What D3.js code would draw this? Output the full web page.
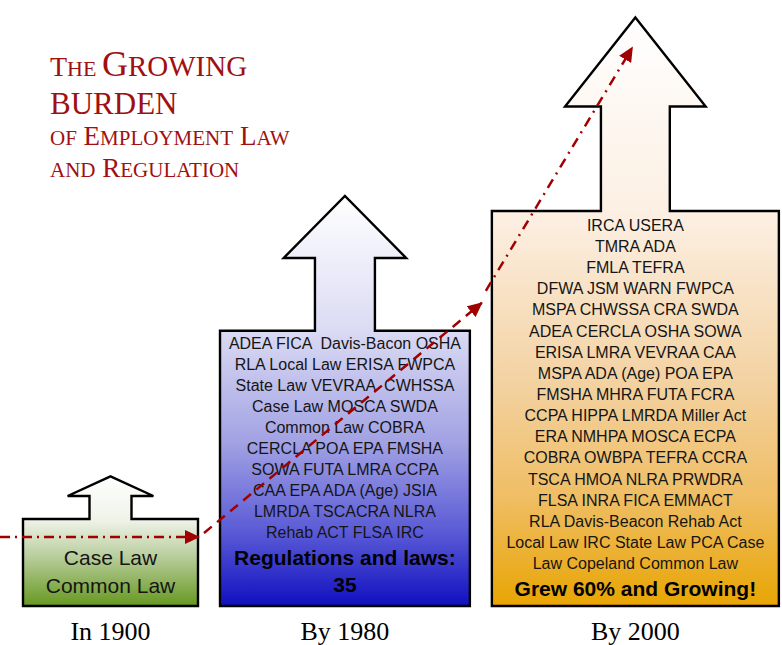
<!DOCTYPE html>
<html>
<head>
<meta charset="utf-8">
<script src="https://cdn.jsdelivr.net/npm/d3@7/dist/d3.min.js"></script>
<style>
  body { margin: 0; background: #fff; }
  svg { display: block; }
  .law { font-family: 'Liberation Sans', Arial, sans-serif; fill: #151515; text-anchor: middle; }
  .summary { font-weight: bold; fill: #000; }
  .era { font-family: 'Liberation Serif', 'Times New Roman', serif; font-size: 26px; text-anchor: middle; fill: #000; }
  .title { font-family: 'Liberation Serif', 'Times New Roman', serif; fill: #a01010; }
</style>
</head>
<body>
<div id="chart"></div>
<script>
'use strict';

// data
const eras = ['In 1900', 'By 1980', 'By 2000'];
const lawCounts = [2, 35, 56];   // 35 listed for 1980, +60% by 2000

const laws1900 = ['Case Law', 'Common Law'];
const laws1980 = [
  'ADEA FICA  Davis-Bacon OSHA',
  'RLA Local Law ERISA FWPCA',
  'State Law VEVRAA  CWHSSA',
  'Case Law MOSCA SWDA',
  'Common Law COBRA',
  'CERCLA POA EPA FMSHA',
  'SOWA FUTA LMRA CCPA',
  'CAA EPA ADA (Age) JSIA',
  'LMRDA TSCACRA NLRA',
  'Rehab ACT FLSA IRC'
];
const laws2000 = [
  'IRCA USERA',
  'TMRA ADA',
  'FMLA TEFRA',
  'DFWA JSM WARN FWPCA',
  'MSPA CHWSSA CRA SWDA',
  'ADEA CERCLA OSHA SOWA',
  'ERISA LMRA VEVRAA CAA',
  'MSPA ADA (Age) POA EPA',
  'FMSHA MHRA FUTA FCRA',
  'CCPA HIPPA LMRDA Miller Act',
  'ERA NMHPA MOSCA ECPA',
  'COBRA OWBPA TEFRA CCRA',
  'TSCA HMOA NLRA PRWDRA',
  'FLSA INRA FICA EMMACT',
  'RLA Davis-Beacon Rehab Act',
  'Local Law IRC State Law PCA Case',
  'Law Copeland Common Law'
];
const lawLists = [laws1900, laws1980, laws2000];
const summaries = [[], ['Regulations and laws:', '35'], ['Grew 60% and Growing!']];

// styles per era (not data)
const eraStyles = [
  {fontSize: 21, lineH: 28, firstOffset: 38, sumSize: 21, sumGap: 26, sumLineH: 27,
   stops: [[0, '#ffffff'], [0.34, '#eef3e8'], [0.62, '#b8cd9c'], [1, '#66981f']]},
  {fontSize: 16, lineH: 21, firstOffset: 12, sumSize: 21, sumGap: 26, sumLineH: 27,
   stops: [[0, '#ffffff'], [0.32, '#dcdcf4'], [0.6, '#a2a2e4'], [0.82, '#5a5ad6'], [1, '#1010c0']]},
  {fontSize: 16, lineH: 21.15, firstOffset: 14, sumSize: 21, sumGap: 25, sumLineH: 27,
   stops: [[0, '#ffffff'], [0.34, '#fcefe2'], [0.62, '#f3d2a2'], [0.82, '#efbd62'], [1, '#e8a502']]}
];

// keep double spaces visible in svg text
const keepSpaces = s => s.replace(/  /g, ' \u00a0');

class GrowthVis {
  constructor (svgWidth, svgHeight) {
    this.svgWidth = svgWidth;
    this.svgHeight = svgHeight;
    this.bottom = 606;
    this.left = 23;
    this.gap = 22;
    this.lineColor = '#a00000';
    this.svg = d3.select('#chart')
                 .append('svg')
                   .attr('width', svgWidth)
                   .attr('height', svgHeight);
    this.defs = this.svg.append('defs');
    this.widthScale = d3.scalePow().exponent(0.78).domain([2, 56]).range([175, 287]);
    this.heightScale = d3.scaleLinear().domain([2, 56]).range([87, 395]);
  }

  layout() {
    let x = this.left;
    this.shapes = eras.map((era, i) => {
      const w = this.widthScale(lawCounts[i]);
      const h = this.heightScale(lawCounts[i]);
      const s = {i: i, era: era, left: x, right: x + w, w: w, cx: x + w / 2,
                 top: this.bottom - h, bottom: this.bottom};
      s.arrowH = h * 0.49;
      s.tip = s.top - s.arrowH;
      s.shoulder = s.tip + s.arrowH * 0.46;
      s.stem = w * 0.12;
      s.head = w * 0.245;
      x += w + this.gap;
      return s;
    });
  }

  shapePath(s) {
    const p = d3.path();
    p.moveTo(s.left, s.bottom);
    p.lineTo(s.left, s.top);
    p.lineTo(s.cx - s.stem, s.top);
    p.lineTo(s.cx - s.stem, s.shoulder);
    p.lineTo(s.cx - s.head, s.shoulder);
    p.lineTo(s.cx, s.tip);
    p.lineTo(s.cx + s.head, s.shoulder);
    p.lineTo(s.cx + s.stem, s.shoulder);
    p.lineTo(s.cx + s.stem, s.top);
    p.lineTo(s.right, s.top);
    p.lineTo(s.right, s.bottom);
    p.closePath();
    return p.toString();
  }

  drawShapes() {
    const grads = this.defs.selectAll('linearGradient')
                      .data(this.shapes)
                      .enter()
                      .append('linearGradient')
                        .attr('id', d => 'grad' + d.i)
                        .attr('gradientUnits', 'userSpaceOnUse')
                        .attr('x1', d => d.cx).attr('x2', d => d.cx)
                        .attr('y1', d => d.tip).attr('y2', d => d.bottom);
    grads.selectAll('stop')
         .data(d => eraStyles[d.i].stops)
         .enter()
         .append('stop')
           .attr('offset', d => d[0])
           .attr('stop-color', d => d[1]);

    this.svg.selectAll('path.shape')
            .data(this.shapes)
            .enter()
            .append('path')
              .attr('class', 'shape')
              .attr('d', d => this.shapePath(d))
              .attr('fill', d => `url(#grad${d.i})`)
              .attr('stroke', '#000')
              .attr('stroke-width', 2.4)
              .attr('stroke-linejoin', 'miter');
  }

  drawTexts() {
    this.shapes.forEach(s => {
      const st = eraStyles[s.i];
      const lines = lawLists[s.i];
      const g = this.svg.append('g').attr('class', 'law');
      g.selectAll('text.item')
       .data(lines)
       .enter()
       .append('text')
         .attr('class', 'item')
         .attr('x', s.cx)
         .attr('y', (d, k) => s.top + st.firstOffset + k * st.lineH)
         .attr('dy', '0.36em')
         .style('font-size', st.fontSize + 'px')
         .text(d => keepSpaces(d));
      const lastY = s.top + st.firstOffset + (lines.length - 1) * st.lineH;
      g.selectAll('text.summary')
       .data(summaries[s.i])
       .enter()
       .append('text')
         .attr('class', 'summary')
         .attr('x', s.cx)
         .attr('y', (d, k) => lastY + st.sumGap + k * st.sumLineH)
         .attr('dy', '0.36em')
         .style('font-size', st.sumSize + 'px')
         .text(d => d);
    });

    this.svg.selectAll('text.era')
            .data(this.shapes)
            .enter()
            .append('text')
              .attr('class', 'era')
              .attr('x', d => d.cx)
              .attr('y', 640)
              .text(d => d.era);
  }

  drawTrend() {
    this.defs.append('marker')
               .attr('id', 'arrow')
               .attr('markerUnits', 'userSpaceOnUse')
               .attr('markerWidth', 16).attr('markerHeight', 14)
               .attr('refX', 14).attr('refY', 7)
               .attr('orient', 'auto')
             .append('path')
               .attr('d', 'M0,0 L15,7 L0,14 Z')
               .attr('fill', this.lineColor);

    const [a, b, c] = this.shapes;
    const segs = [
      {from: [0, a.top + 18], to: [a.right + 1, a.top + 18], dash: '10,5,2,5'},
      {from: [a.right + 6, a.top + 14], to: [b.right + 12, b.top - 28], dash: '10,7'},
      {from: [b.right + 16, b.top - 40], to: [c.cx - 3, c.tip + 30], dash: '10,6,2,6'}
    ];
    this.svg.selectAll('line.trend')
            .data(segs)
            .enter()
            .append('line')
              .attr('class', 'trend')
              .attr('x1', d => d.from[0]).attr('y1', d => d.from[1])
              .attr('x2', d => d.to[0]).attr('y2', d => d.to[1])
              .attr('stroke', this.lineColor)
              .attr('stroke-width', 2.5)
              .attr('stroke-dasharray', d => d.dash)
              .attr('marker-end', 'url(#arrow)');
  }

  drawTitle() {
    const lines = [
      {y: 76, parts: [['T', 28], ['HE\u00a0', 22], ['G', 36], ['ROWING', 29]]},
      {y: 114, parts: [['BURDEN', 31]]},
      {y: 145, parts: [['OF', 21], ['\u00a0E', 27], ['MPLOYMENT', 21], ['\u00a0L', 27], ['AW', 21]]},
      {y: 177, parts: [['AND', 21], ['\u00a0R', 27], ['EGULATION', 21]]}
    ];
    const t = this.svg.selectAll('text.title')
                      .data(lines)
                      .enter()
                      .append('text')
                        .attr('class', 'title')
                        .attr('x', 50)
                        .attr('y', d => d.y);
    t.selectAll('tspan')
     .data(d => d.parts)
     .enter()
     .append('tspan')
       .style('font-size', d => d[1] + 'px')
       .text(d => d[0]);
  }
}

let vis = new GrowthVis(782, 645);
vis.layout();
vis.drawShapes();
vis.drawTitle();
vis.drawTexts();
vis.drawTrend();
</script>
</body>
</html>
